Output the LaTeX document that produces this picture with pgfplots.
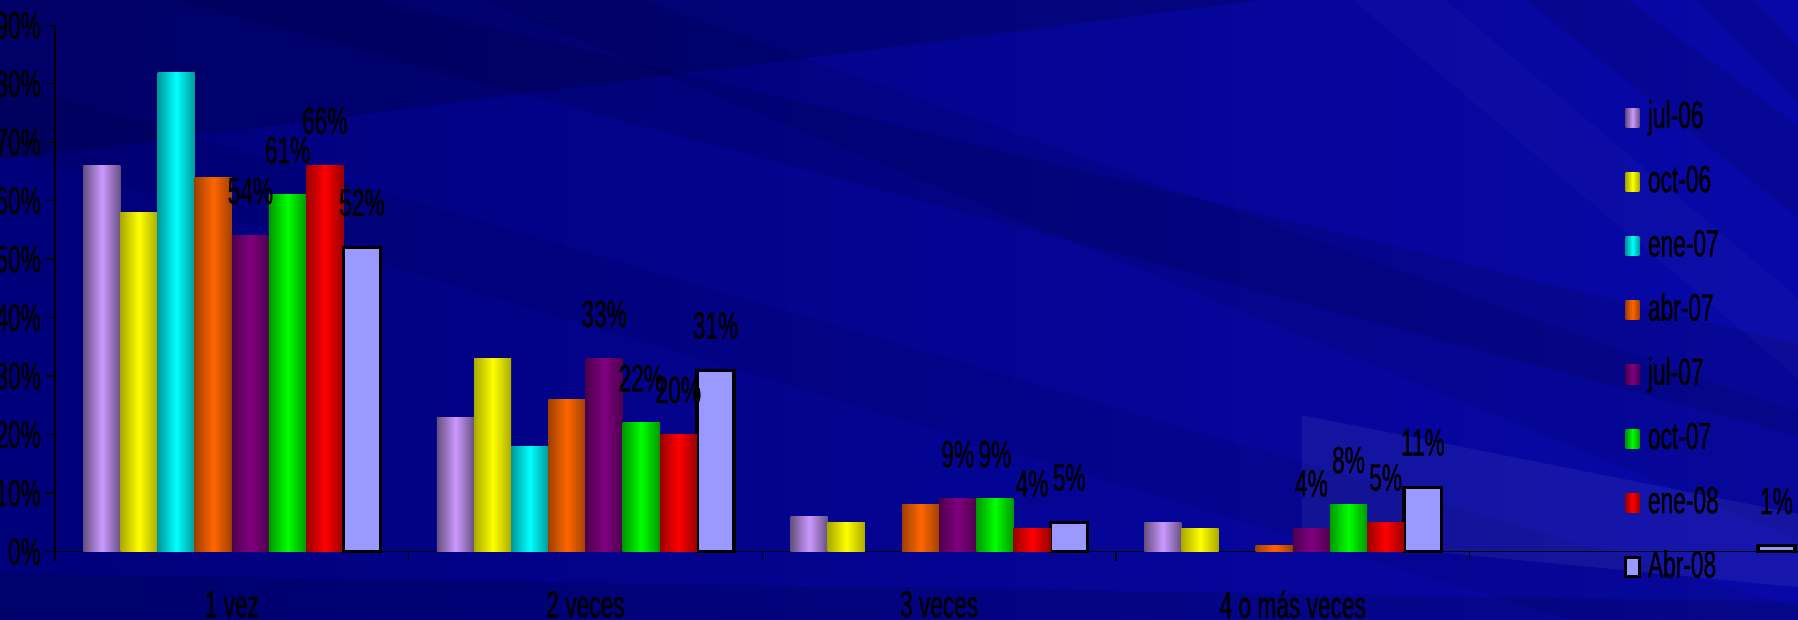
\documentclass[border=0pt]{standalone}
\usepackage{fontspec}
\setmainfont{Liberation Sans}[FakeStretch=0.6, FakeBold=0.8]
\usepackage{pgfplots}
\pgfplotsset{compat=1.18}
\definecolor{bgL}{RGB}{0,0,122}
\definecolor{bgR}{RGB}{8,8,168}
\definecolor{aDk}{RGB}{102,80,128}\definecolor{aBr}{RGB}{204,153,255}
\definecolor{bDk}{RGB}{170,170,0}\definecolor{bBr}{RGB}{255,255,0}
\definecolor{cDk}{RGB}{0,153,153}\definecolor{cBr}{RGB}{0,255,255}
\definecolor{dDk}{RGB}{160,64,0}\definecolor{dBr}{RGB}{255,102,0}
\definecolor{eDk}{RGB}{77,0,77}\definecolor{eBr}{RGB}{128,0,128}
\definecolor{fDk}{RGB}{0,153,0}\definecolor{fBr}{RGB}{0,255,0}
\definecolor{gDk}{RGB}{153,0,0}\definecolor{gBr}{RGB}{255,0,0}
\definecolor{hC}{RGB}{153,153,255}
\newcommand{\lbl}{\fontsize{16.5}{19}\selectfont}
\pgfplotsset{
  myleg/.style={legend image code/.code={\path[##1] (0pt,-4.15pt) rectangle (6pt,4.15pt);}},
  barbase/.style={ybar, bar width=0.105, draw=none, myleg},
  sA/.style={barbase, bar shift=-0.3675, left color=aDk, right color=aDk, middle color=aBr},
  sB/.style={barbase, bar shift=-0.2625, left color=bDk, right color=bDk, middle color=bBr},
  sC/.style={barbase, bar shift=-0.1575, left color=cDk, right color=cDk, middle color=cBr},
  sD/.style={barbase, bar shift=-0.0525, left color=dDk, right color=dDk, middle color=dBr},
  sE/.style={barbase, bar shift=0.0525, left color=eDk, right color=eDk, middle color=eBr},
  sF/.style={barbase, bar shift=0.1575, left color=fDk, right color=fDk, middle color=fBr},
  sG/.style={barbase, bar shift=0.2625, left color=gDk, right color=gDk, middle color=gBr},
  sH/.style={ybar, bar width=0.105, bar shift=0.3675, draw=black, line width=1.5pt, fill=hC, myleg},
  lab/.style={nodes near coords={\pgfmathprintnumber{\pgfplotspointmeta}\%},
    every node near coord/.append style={xshift=#1}},
}
\begin{document}
\begin{tikzpicture}
\path[use as bounding box] (-24pt,-29.5pt) rectangle (760pt,240.5pt);
\begin{scope}[shift={(-24pt,240.5pt)}, x=0.5pt, y=-0.5pt]
  \shade[left color=bgL, right color=bgR] (0,0) rectangle (1568,540);
  \fill[black, opacity=0.16] (0,0) -- (1100,0) -- (0,140) -- cycle;
  \fill[black, opacity=0.10] (150,0) -- (330,0) -- (1568,300) -- (1568,380) -- cycle;
  \fill[black, opacity=0.08] (420,0) -- (560,0) -- (1568,360) -- (1568,470) -- cycle;
  \fill[black, opacity=0.07] (0,70) -- (0,130) -- (1568,600) -- (1568,530) -- cycle;
  \fill[black, opacity=0.12] (0,500) -- (1568,525) -- (1568,540) -- (0,540) -- cycle;
  \fill[black, opacity=0.10] (1330,0) -- (1420,0) -- (1568,110) -- (1568,190) -- cycle;
  \fill[black, opacity=0.10] (1480,0) -- (1530,0) -- (1568,40) -- (1568,90) -- cycle;
  \fill[white, opacity=0.025] (1180,0) -- (1260,0) -- (1568,260) -- (1568,330) -- cycle;
  \fill[white, opacity=0.06] (1135,362) -- (1568,448) -- (1568,512) -- (1135,470) -- cycle;
\end{scope}
\begin{axis}[
  at={(0pt,0pt)}, anchor=south west,
  scale only axis, width=771pt, height=229.5pt,
  xmin=-0.5, xmax=4.5, ymin=0, ymax=90,
  axis x line=bottom, axis y line=left,
  axis line style={-, black, line width=0.6pt},
  tick style={black, line width=0.6pt},
  tick align=outside, major tick length=4pt,
  ytick={0,10,...,90},
  yticklabel={\pgfmathparse{int(\tick)}\pgfmathresult\%},
  y tick label style={font=\lbl, inner sep=1pt, xshift=-1pt},
  xtick={-0.5,0.5,1.5,2.5,3.5,4.5},
  xticklabels={,,,,,},
  extra x ticks={0,1,2,3},
  extra x tick labels={1 vez,2 veces,3 veces,4 o más veces},
  extra x tick style={major tick length=0pt},
  x tick label style={font=\lbl, anchor=center, yshift=-23pt},
  /pgf/number format/assume math mode=true,
  every node near coord/.append style={font=\lbl, text=black, anchor=center, yshift=19.5pt},
  legend style={at={(0.887,0.858)}, anchor=north west, draw=none, fill=none,
    font=\lbl, inner sep=0pt, row sep=13pt,
    nodes={inner sep=0pt, text height=12pt, text depth=3pt},
    cells={anchor=west}},
  clip=false,
]
% first bar of each series (carries the legend entry)
\addplot[sA] coordinates {(0,66)}; \addlegendentry{\hspace{3pt}jul-06}
\addplot[sB] coordinates {(0,58)}; \addlegendentry{\hspace{3pt}oct-06}
\addplot[sC] coordinates {(0,82)}; \addlegendentry{\hspace{3pt}ene-07}
\addplot[sD] coordinates {(0,64)}; \addlegendentry{\hspace{3pt}abr-07}
\addplot[sE,lab=8.1pt] coordinates {(0,54)}; \addlegendentry{\hspace{3pt}jul-07}
\addplot[sF,lab=24.3pt] coordinates {(0,61)}; \addlegendentry{\hspace{3pt}oct-07}
\addplot[sG,lab=40.5pt] coordinates {(0,66)}; \addlegendentry{\hspace{3pt}ene-08}
\addplot[sH,lab=56.7pt] coordinates {(0,52) (1,31) (2,5) (3,11) (4,1)}; \addlegendentry{\hspace{3pt}Abr-08}
% remaining bars, one per path so that each bar gets its own shading
\addplot[sA, forget plot] coordinates {(1,23)};
\addplot[sA, forget plot] coordinates {(2,6)};
\addplot[sA, forget plot] coordinates {(3,5)};
\addplot[sB, forget plot] coordinates {(1,33)};
\addplot[sB, forget plot] coordinates {(2,5)};
\addplot[sB, forget plot] coordinates {(3,4)};
\addplot[sC, forget plot] coordinates {(1,18)};
\addplot[sD, forget plot] coordinates {(1,26)};
\addplot[sD, forget plot] coordinates {(2,8)};
\addplot[sD, forget plot] coordinates {(3,1)};
\addplot[sE, lab=8.1pt, forget plot] coordinates {(1,33)};
\addplot[sE, lab=8.1pt, forget plot] coordinates {(2,9)};
\addplot[sE, lab=8.1pt, forget plot] coordinates {(3,4)};
\addplot[sF, lab=24.3pt, forget plot] coordinates {(1,22)};
\addplot[sF, lab=24.3pt, forget plot] coordinates {(2,9)};
\addplot[sF, lab=24.3pt, forget plot] coordinates {(3,8)};
\addplot[sG, lab=40.5pt, forget plot] coordinates {(1,20)};
\addplot[sG, lab=40.5pt, forget plot] coordinates {(2,4)};
\addplot[sG, lab=40.5pt, forget plot] coordinates {(3,5)};
\end{axis}
\end{tikzpicture}
\end{document}
